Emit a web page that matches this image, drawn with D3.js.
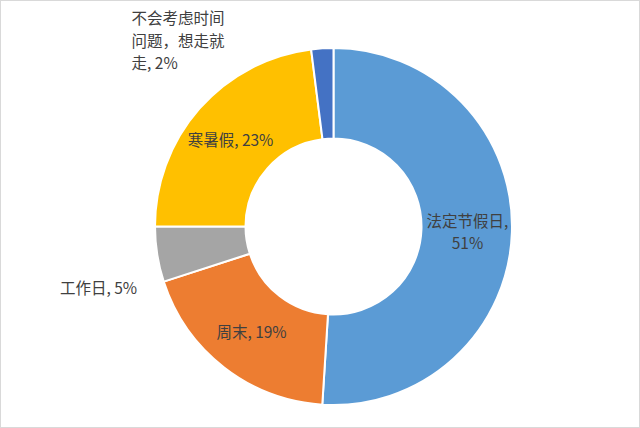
<!DOCTYPE html>
<html><head><meta charset="utf-8">
<script src="https://cdn.jsdelivr.net/npm/d3@7"></script>
<style>
html,body{margin:0;padding:0;background:#fff;}
svg{display:block;}
</style></head>
<body>
<script>
const categories = ["法定节假日", "周末", "工作日", "寒暑假", "不会考虑时间问题，想走就走"];
const values = [51, 19, 5, 23, 2];
const labelLines = [
  ["法定节假日,", "51%"],
  ["周末, 19%"],
  ["工作日, 5%"],
  ["寒暑假, 23%"],
  ["不会考虑时间", "问题，想走就", "走, 2%"]
];
const colors = ["#5B9BD5", "#ED7D31", "#A5A5A5", "#FFC000", "#4472C4"];

const W = 640, H = 428;
const cx = 333.5, cy = 226.5, R = 178.5, r = 88;
const svg = d3.select("body").append("svg").attr("width", W).attr("height", H);
svg.append("rect").attr("x", 0.5).attr("y", 0.5).attr("width", W - 1).attr("height", H - 1)
  .attr("fill", "#fff").attr("stroke", "#D9D9D9");

const data = categories.map((c, i) => ({cat: c, value: values[i], i}));
const pie = d3.pie().value(d => d.value).sort(null);
const arcs = pie(data);
const arc = d3.arc().innerRadius(r).outerRadius(R);
const g = svg.append("g").attr("transform", `translate(${cx},${cy})`);
g.selectAll("path").data(arcs).join("path")
  .attr("d", arc).attr("fill", d => colors[d.data.i])
  .attr("stroke", "#fff").attr("stroke-width", 2).attr("stroke-linejoin", "round");

// label positions (centre of text block), relative to chart centre
const labelPos = [
  {x: 134, y: 6, anchor: "middle"},
  {x: -82, y: 106, anchor: "middle"},
  {x: -235, y: 62, anchor: "middle"},
  {x: -103, y: -86, anchor: "middle"},
  {x: -202, y: -185, anchor: "start"}
];
const lh = 22.5;
arcs.forEach((d, k) => {
  const p = labelPos[k];
  const lines = labelLines[k];
  const t = g.append("text")
    .attr("text-anchor", p.anchor)
    .attr("font-family", "'Noto Sans CJK SC', 'Noto Sans', sans-serif")
    .attr("font-size", 15.5)
    .attr("fill", "#404040");
  const y0 = p.y - (lines.length - 1) * lh / 2;
  lines.forEach((ln, j) => {
    t.append("tspan").attr("x", p.x).attr("y", y0 + j * lh).attr("dy", "0.35em").text(ln);
  });
});
</script>
</body></html>
